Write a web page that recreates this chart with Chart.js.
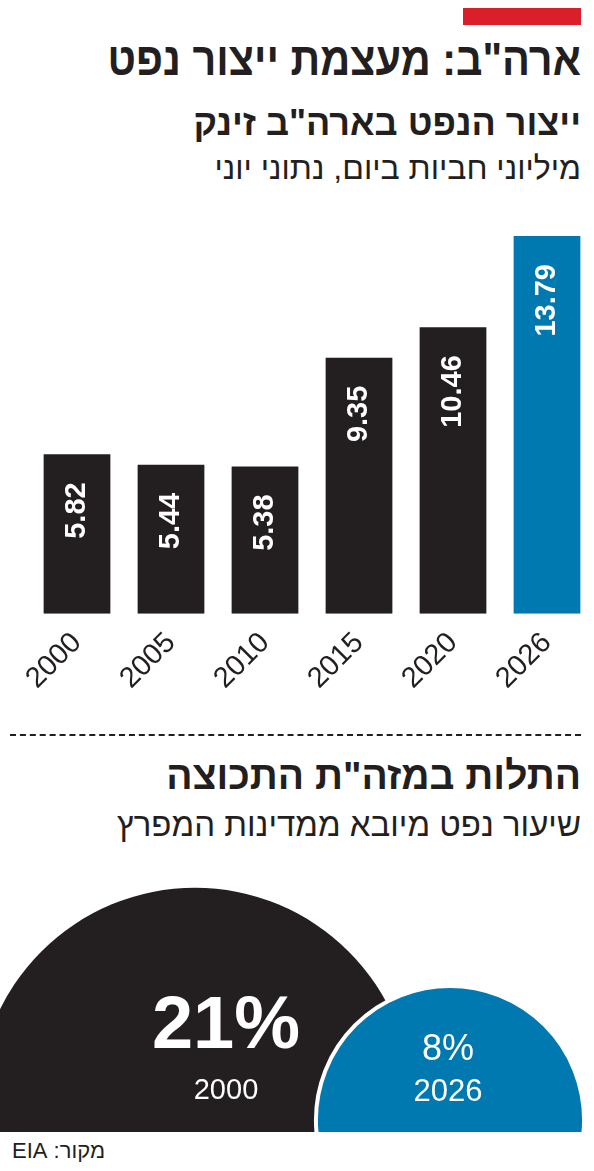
<!DOCTYPE html>
<html><head><meta charset="utf-8">
<script src="https://cdn.jsdelivr.net/npm/chart.js@4"></script>
<style>
body{margin:0;width:594px;height:1171px;background:#fff;position:relative;overflow:hidden;font-family:"Liberation Sans","DejaVu Sans",sans-serif;color:#231f20}
.t{position:absolute;right:13px;direction:rtl;white-space:nowrap}
#bars{position:absolute;left:0;top:200px}
#bub{position:absolute;left:0;top:850px}
</style></head><body>
<div style="position:absolute;left:463px;top:8px;width:118px;height:17px;background:#d9202a"></div>
<div class="t" style="top:32px;font-size:46px;font-weight:bold;transform:scaleX(0.9);transform-origin:right">ארה"ב: מעצמת ייצור נפט</div>
<div class="t" style="top:102px;font-size:36px;font-weight:bold">ייצור הנפט בארה"ב זינק</div>
<div class="t" style="top:150px;font-size:32px">מיליוני חביות ביום, נתוני יוני</div>
<div style="position:absolute;left:10px;top:734px;width:571px;border-top:2px dashed #231f20"></div>
<div class="t" style="top:754px;font-size:39px;font-weight:bold">התלות במזה"ת התכוצה</div>
<div class="t" style="top:806px;font-size:33px">שיעור נפט מיובא ממדינות המפרץ</div>
<div style="position:absolute;left:12px;top:1138px;font-size:22px;direction:rtl">מקור: EIA</div>
<canvas id="bars" width="594" height="500"></canvas>
<canvas id="bub" width="594" height="282"></canvas>
<script>
const years=['2000','2005','2010','2015','2020','2026'];
const production=[5.82,5.44,5.38,9.35,10.46,13.79];
const barColors=['#231f20','#231f20','#231f20','#231f20','#231f20','#0079b1'];
const shareYears=['2000','2026'];
const gulfShare=[21,8];
const shareColors=['#231f20','#0079b1'];

new Chart(document.getElementById('bars'),{
 type:'bar',
 data:{labels:years,datasets:[{data:production,backgroundColor:barColors,barPercentage:0.71,categoryPercentage:1}]},
 options:{responsive:false,animation:false,
  layout:{padding:{left:30,right:0,top:36,bottom:0}},
  plugins:{legend:{display:false},tooltip:{enabled:false}},
  scales:{
   y:{display:false,min:0,max:13.79},
   x:{grid:{display:false},border:{display:false},
      ticks:{color:'#231f20',font:{size:29,family:'Liberation Sans'},minRotation:45,maxRotation:45,padding:4}}
  }},
 plugins:[{id:'vals',afterDatasetsDraw(c){
   const ctx=c.ctx;c.getDatasetMeta(0).data.forEach((b,i)=>{
    ctx.save();ctx.translate(b.x,b.y+28);ctx.rotate(-Math.PI/2);
    ctx.fillStyle='#fff';ctx.font='bold 29px "Liberation Sans Narrow","Liberation Sans"';
    ctx.textAlign='right';ctx.textBaseline='middle';
    ctx.fillText(production[i].toFixed(2),0,0);ctx.restore();});
 }}]
});

const k=47.4;
const centers=[[195,255],[450,270]];
new Chart(document.getElementById('bub'),{
 type:'scatter',
 data:{datasets:[{data:gulfShare.map((v,i)=>({x:centers[i][0],y:centers[i][1]})),pointRadius:0}]},
 options:{responsive:false,animation:false,
  layout:{padding:0},
  plugins:{legend:{display:false},tooltip:{enabled:false}},
  scales:{x:{display:false,min:0,max:594},y:{display:false,min:0,max:282,reverse:true}}},
 plugins:[{id:'lbl',afterDatasetsDraw(c){
   const ctx=c.ctx;ctx.save();
   const xs=c.scales.x,ys=c.scales.y;
   c.getDatasetMeta(0).data.forEach((p,i)=>{
     ctx.beginPath();ctx.arc(p.x,p.y,k*Math.sqrt(gulfShare[i]),0,Math.PI*2);
     ctx.fillStyle=shareColors[i];ctx.fill();
     if(i===1){ctx.lineWidth=4;ctx.strokeStyle='#fff';ctx.stroke();}
   });
   ctx.fillStyle='#fff';ctx.textAlign='center';ctx.textBaseline='middle';
   ctx.font='bold 74px "Liberation Sans Narrow","Liberation Sans"';ctx.fillText(gulfShare[0]+'%',226,178);
   ctx.font='29px "Liberation Sans"';ctx.fillText(shareYears[0],226,241);
   ctx.font='36px "Liberation Sans"';ctx.fillText(gulfShare[1]+'%',448,200);
   ctx.font='31px "Liberation Sans"';ctx.fillText(shareYears[1],448,242);
   ctx.restore();
 }}]
});
</script></body></html>
